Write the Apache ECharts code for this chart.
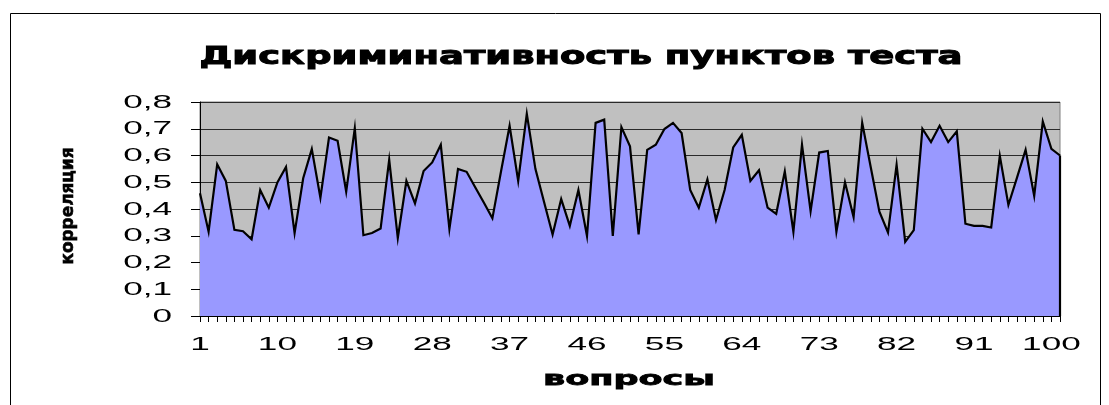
<!DOCTYPE html>
<html><head><meta charset="utf-8">
<script src="https://cdn.jsdelivr.net/npm/echarts@6/dist/echarts.min.js"></script>
<style>html,body{margin:0;padding:0;background:#fff}#c{width:1109px;height:405px}</style>
</head><body><div id="c"></div>
<script>
const titleText = 'Дискриминативность пунктов теста';
const xAxisName = 'вопросы';
const yAxisName = 'корреляция';
const categories = ['1','2','3','4','5','6','7','8','9','10','11','12','13','14','15','16','17','18','19','20',
  '21','22','23','24','25','26','27','28','29','30','31','32','33','34','35','36','37','38','39','40',
  '41','42','43','44','45','46','47','48','49','50','51','52','53','54','55','56','57','58','59','60',
  '61','62','63','64','65','66','67','68','69','70','71','72','73','74','75','76','77','78','79','80',
  '81','82','83','84','85','86','87','88','89','90','91','92','93','94','95','96','97','98','99','100','101'];
const values = [0.459,0.315,0.567,0.505,0.322,0.317,0.287,0.471,0.405,0.499,
  0.557,0.310,0.515,0.624,0.442,0.667,0.655,0.465,0.702,0.302,
  0.310,0.327,0.584,0.292,0.505,0.421,0.542,0.574,0.640,0.325,
  0.550,0.539,0.481,0.424,0.365,0.540,0.711,0.505,0.756,0.550,
  0.427,0.305,0.437,0.337,0.471,0.299,0.722,0.734,0.299,0.706,
  0.634,0.305,0.621,0.640,0.699,0.722,0.684,0.471,0.405,0.511,
  0.359,0.471,0.630,0.677,0.505,0.545,0.405,0.382,0.540,0.315,
  0.640,0.392,0.611,0.617,0.315,0.500,0.370,0.722,0.555,0.390,
  0.312,0.565,0.277,0.321,0.700,0.650,0.711,0.650,0.690,0.345,
  0.337,0.337,0.331,0.599,0.415,0.517,0.621,0.449,0.727,0.625,0.600];
const yTicks = [0,0.1,0.2,0.3,0.4,0.5,0.6,0.7,0.8];
const yTickLabels = ['0','0,1','0,2','0,3','0,4','0,5','0,6','0,7','0,8'];
const xLabelStep = 9;

const chart = echarts.init(document.getElementById('c'), null, {renderer:'canvas'});
const last = categories.length - 1;
chart.setOption({
  animation:false,
  grid:{left:200, top:102, right:49, bottom:89, show:true, backgroundColor:'#C0C0C0', borderColor:'#808080', borderWidth:1},
  xAxis:{type:'category', data:categories, boundaryGap:false,
    axisLine:{show:true, lineStyle:{color:'#000', width:1}},
    axisTick:{show:true, interval:0, length:6, lineStyle:{color:'#000', width:1}},
    axisLabel:{show:false}, splitLine:{show:false}},
  yAxis:{type:'value', min:0, max:0.8, interval:0.1,
    axisLine:{show:true, lineStyle:{color:'#000', width:1}},
    axisTick:{show:true, length:9, lineStyle:{color:'#000', width:1}},
    axisLabel:{show:false},
    splitLine:{show:true, lineStyle:{color:'#2a2a2a', width:1}}},
  series:[{type:'line', data:values, symbol:'none', z:3,
    lineStyle:{color:'#000', width:2.2, join:'miter'},
    areaStyle:{color:'#9999FF', opacity:1},
    markLine:{silent:true, symbol:'none', label:{show:false},
      lineStyle:{color:'#000', width:2.2, type:'solid'},
      data:[[{coord:[categories[last],0]},{coord:[categories[last],values[last]]}]]}}]
});

const cv = document.createElement('canvas').getContext('2d');
function tw(font, s){ cv.font = font; return cv.measureText(s).width; }
const g = [];
const labFont = '19px "Liberation Sans"';
const labScale = 1.85;
yTicks.forEach((v,i)=>{
  const p = chart.convertToPixel({yAxisIndex:0}, v);
  g.push({type:'text', x:172, y:p+0.5, scaleX:labScale, silent:true,
    style:{text:yTickLabels[i], font:labFont, fill:'#000', align:'right', verticalAlign:'middle', textAlign:'right', textVerticalAlign:'middle'}});
});
categories.forEach((c,i)=>{
  if (i % xLabelStep !== 0) return;
  const p = chart.convertToPixel({xAxisIndex:0}, c);
  g.push({type:'text', x:p, y:345, scaleX:labScale, silent:true,
    style:{text:c, font:labFont, fill:'#000', align:'center', verticalAlign:'middle', textAlign:'center', textVerticalAlign:'middle'}});
});
const tFont = 'bold 25px "DejaVu Sans"';
g.push({type:'text', x:581, y:57, scaleX:763/tw(tFont,titleText), silent:true,
  style:{text:titleText, font:tFont, fill:'#000', stroke:'#000', lineWidth:1, align:'center', verticalAlign:'middle', textAlign:'center', textVerticalAlign:'middle'}});
const xnFont = 'bold 20px "DejaVu Sans"';
g.push({type:'text', x:629, y:380, scaleX:172/tw(xnFont,xAxisName), silent:true,
  style:{text:xAxisName, font:xnFont, fill:'#000', stroke:'#000', lineWidth:0.8, align:'center', verticalAlign:'middle', textAlign:'center', textVerticalAlign:'middle'}});
const ynFont = 'bold 17px "DejaVu Sans"';
g.push({type:'text', x:69, y:206, rotation:Math.PI/2, scaleX:117/tw(ynFont,yAxisName), silent:true,
  style:{text:yAxisName, font:ynFont, fill:'#000', stroke:'#000', lineWidth:0.6, align:'center', verticalAlign:'middle', textAlign:'center', textVerticalAlign:'middle'}});
g.push({type:'rect', silent:true, z:-10, shape:{x:10.5, y:13.5, width:1090, height:430},
  style:{fill:'none', stroke:'#000', lineWidth:1}});
chart.setOption({graphic:g});
</script></body></html>
